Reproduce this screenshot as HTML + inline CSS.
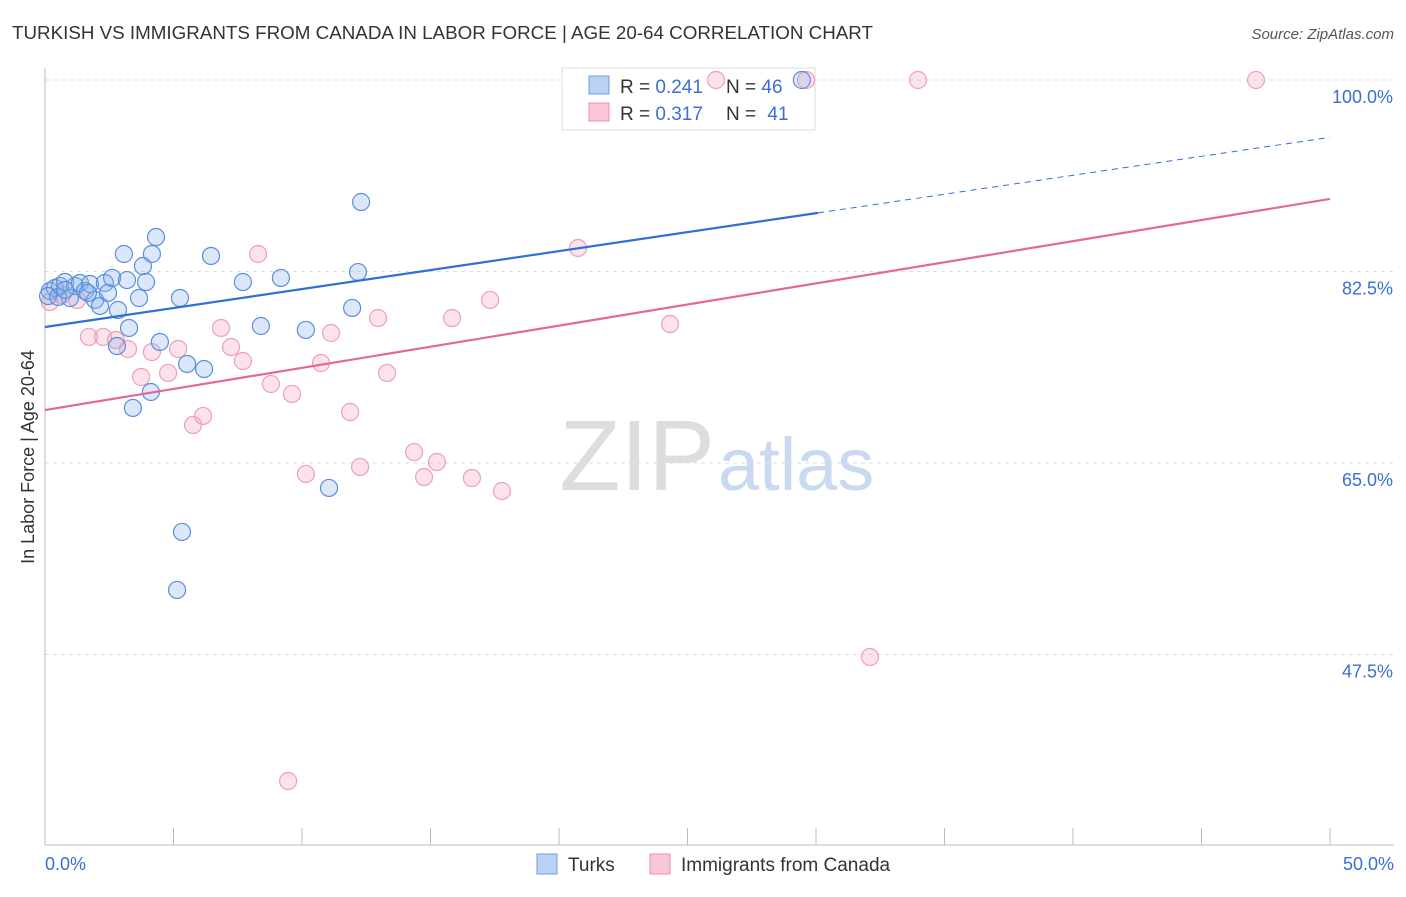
<!DOCTYPE html>
<html><head><meta charset="utf-8"><style>
body{margin:0;background:#fff;font-family:"Liberation Sans",sans-serif;}
svg text{font-family:"Liberation Sans",sans-serif;}
</style></head><body>
<svg id="chart" width="1406" height="892">
<text x="12" y="39" font-size="18" fill="#333" textLength="861" lengthAdjust="spacingAndGlyphs">TURKISH VS IMMIGRANTS FROM CANADA IN LABOR FORCE | AGE 20-64 CORRELATION CHART</text>
<text x="1394" y="39" font-size="15" fill="#555" text-anchor="end" font-style="italic">Source: ZipAtlas.com</text>
<text x="715" y="490" font-size="100" fill="#ddd" text-anchor="end" font-family="Liberation Serif">ZIP</text>
<text x="718" y="490" font-size="74" fill="#c9daf0">atlas</text>
<g id="grid"></g>
<g id="axes"></g>
<g>
<rect x="562" y="68" width="253" height="62" fill="#fff" stroke="#ddd"/>
<rect x="589" y="76" width="20" height="18" fill="#b8d2f4" stroke="#6f9ee0"/>
<rect x="589" y="103" width="20" height="18" fill="#f9c7d6" stroke="#eb8fae"/>
<text x="620" y="93" font-size="19" fill="#333">R = <tspan fill="#3b6fd0">0.241</tspan>  <tspan x="726">N = </tspan><tspan fill="#3b6fd0">46</tspan></text>
<text x="620" y="120" font-size="19" fill="#333">R = <tspan fill="#3b6fd0">0.317</tspan>  <tspan x="726">N = </tspan><tspan fill="#3b6fd0" dx="6">41</tspan></text>
</g>
<g id="pts"></g>
<g id="lines"></g>
<text transform="translate(34,457) rotate(-90)" font-size="18" fill="#333" text-anchor="middle">In Labor Force | Age 20-64</text>
<text x="45" y="870" font-size="18" fill="#3b6fd0">0.0%</text>
<text x="1394" y="870" font-size="18" fill="#3b6fd0" text-anchor="end">50.0%</text>
<g>
<rect x="537" y="854" width="20" height="20" fill="#b8d2f4" stroke="#6f9ee0"/>
<text x="568" y="871" font-size="19" fill="#333">Turks</text>
<rect x="650" y="854" width="20" height="20" fill="#f9c7d6" stroke="#eb8fae"/>
<text x="681" y="871" font-size="19" fill="#333">Immigrants from Canada</text>
</g>
</svg>
<script>
const yTicks=[100,82.5,65,47.5];
const xTicks=[0,5,10,15,20,25,30,35,40,45,50];
const turksX=[0.19,0.39,0.58,0.78,0.97,1.17,1.36,1.56,1.75,1.95,2.14,2.33,2.45,2.61,2.84,3.07,3.19,3.27,2.80,3.42,3.66,3.81,3.93,4.16,4.32,4.47,4.12,5.25,5.53,6.19,6.46,7.70,8.40,9.18,10.15,11.05,11.95,12.18,12.30,5.33,5.14,29.45,0.12,0.51,0.78,1.67];
const turksY=[80.72,80.99,81.18,81.54,80.08,81.18,81.45,80.72,81.36,79.90,79.35,81.45,80.54,81.91,78.98,84.10,81.72,77.34,75.69,70.03,80.08,83.0,81.54,84.10,85.65,76.06,71.49,80.08,74.05,73.59,83.92,81.54,77.52,81.91,77.16,62.72,79.17,82.45,88.85,58.70,53.40,100,80.26,80.17,80.81,80.54];
const canX=[0.19,0.66,1.25,1.71,2.26,2.76,3.23,3.74,4.16,4.79,5.18,5.76,6.15,6.85,7.24,7.70,8.29,8.79,9.61,10.15,10.74,11.13,11.87,12.26,12.96,13.31,14.36,14.75,15.25,15.84,16.61,17.32,17.78,20.74,24.32,26.11,29.61,33.97,47.12,32.10,9.46];
const canY=[79.71,80.35,79.90,76.52,76.52,76.24,75.42,72.86,75.14,73.23,75.42,68.47,69.30,77.34,75.60,74.32,84.10,72.22,71.31,64.0,74.14,76.88,69.66,64.64,78.25,73.23,66.0,63.72,65.09,78.25,63.63,79.90,62.44,84.65,77.70,100,100,100,100,47.27,35.94];
const turksTrend=[77.43,94.76];
const canTrend=[69.84,89.13];
const X=v=>45+v*25.7, Y=v=>80+(100-v)*10.943;
const NS='http://www.w3.org/2000/svg';
function mk(tag,attrs,parent){const e=document.createElementNS(NS,tag);for(const k in attrs)e.setAttribute(k,attrs[k]);document.getElementById(parent).appendChild(e);return e;}
yTicks.forEach(t=>{
 const l=mk('line',{x1:45,x2:1394,y1:Y(t),y2:Y(t),stroke:'#ddd','stroke-dasharray':'4,4'},'grid');
 
 
 const tx=mk('text',{x:1393,y:Y(t)+23,'font-size':18,fill:'#3b6fd0','text-anchor':'end'},'grid');
 tx.textContent=t.toFixed(1)+'%';
 
 
});
let a=mk('line',{x1:45,x2:45,y1:68,y2:845,stroke:'#bbb'},'axes');


a=mk('line',{x1:45,x2:1394,y1:845,y2:845,stroke:'#bbb'},'axes');


xTicks.forEach(t=>{
 const l=mk('line',{x1:X(t),x2:X(t),y1:828,y2:845,stroke:'#bbb'},'axes');
 
 
});
canX.forEach((v,i)=>{
 const c=mk('circle',{cx:X(v),cy:Y(canY[i]),r:8.5,fill:'rgba(244,160,188,0.3)',stroke:'#eda0b8','stroke-width':1.2},'pts');
 
 
});
turksX.forEach((v,i)=>{
 const c=mk('circle',{cx:X(v),cy:Y(turksY[i]),r:8.5,fill:'rgba(140,180,235,0.3)',stroke:'#5a8fdc','stroke-width':1.2},'pts');
 
 
});
const split=30.08, tAt=x=>turksTrend[0]+(turksTrend[1]-turksTrend[0])*x/50;
let l=mk('line',{x1:X(0),y1:Y(turksTrend[0]),x2:X(split),y2:Y(tAt(split)),stroke:'#2f6fd6','stroke-width':2.2},'lines');


l=mk('line',{x1:X(split),y1:Y(tAt(split)),x2:X(50),y2:Y(turksTrend[1]),stroke:'#2f6fd6','stroke-width':1,'stroke-dasharray':'6,5'},'lines');


l=mk('line',{x1:X(0),y1:Y(canTrend[0]),x2:X(50),y2:Y(canTrend[1]),stroke:'#e5679a','stroke-width':2.2},'lines');


</script>
</body></html>
